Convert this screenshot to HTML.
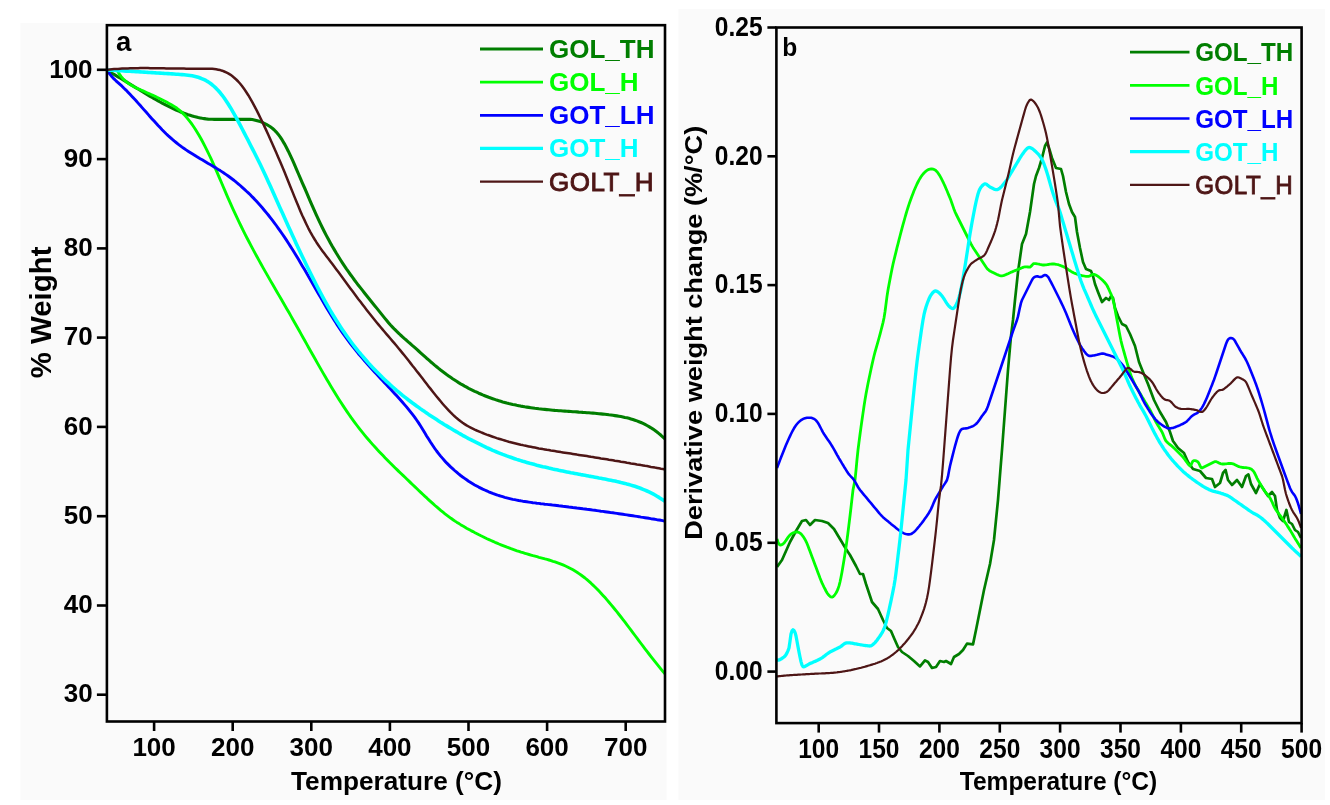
<!DOCTYPE html>
<html lang="en"><head><meta charset="utf-8"><title>TGA and DTG curves</title>
<style>html,body{margin:0;padding:0;background:#fff}body{width:1330px;height:805px;overflow:hidden}svg{display:block;filter:blur(0.45px)}text{font-family:"Liberation Sans",Arial,Helvetica,sans-serif;font-weight:bold;fill:#000}</style></head><body>
<svg width="1330" height="805" viewBox="0 0 1330 805">
<rect width="1330" height="805" fill="#fff"/>
<rect x="20.5" y="23" width="646" height="777" fill="#fafafa"/>
<rect x="678.5" y="9" width="646.5" height="791" fill="#fafafa"/>
<g id="panel-a">
<clipPath id="ca"><rect x="106.9" y="25.2" width="558.1" height="696.3"/></clipPath>
<g clip-path="url(#ca)">
<path d="M108.0,71.0L110.0,72.1L112.0,73.3L114.0,74.4L116.0,75.6L118.0,76.8L120.0,78.0L122.0,79.2L124.0,80.4L126.0,81.6L128.0,82.9L130.0,84.1L132.0,85.3L134.0,86.6L136.1,87.8L138.1,89.0L140.1,90.2L142.1,91.5L144.1,92.7L146.1,93.9L148.1,95.1L150.1,96.3L152.1,97.4L154.1,98.6L156.1,99.7L158.1,100.9L160.1,102.0L162.1,103.1L164.1,104.1L166.1,105.2L168.1,106.2L170.1,107.2L172.1,108.1L174.1,109.1L176.1,110.0L178.1,110.8L180.1,111.7L182.1,112.5L184.1,113.3L186.1,114.0L188.1,114.7L190.1,115.3L192.2,115.9L194.2,116.5L196.2,117.0L198.2,117.5L200.2,117.9L202.2,118.3L204.2,118.6L206.2,118.9L208.2,119.1L210.2,119.2L212.2,119.3L214.2,119.4L216.2,119.4L218.2,119.4L220.2,119.4L222.2,119.4L224.2,119.4L226.2,119.4L228.2,119.4L230.2,119.4L232.2,119.4L234.2,119.4L236.2,119.4L238.2,119.4L240.2,119.4L242.2,119.4L244.2,119.4L246.2,119.4L248.3,119.4L250.3,119.4L252.3,119.5L254.3,119.9L256.3,120.4L258.3,121.0L260.3,121.6L262.3,122.4L264.3,123.3L266.3,124.3L268.3,125.5L270.3,126.8L272.3,128.3L274.3,130.0L276.3,132.1L278.3,134.4L280.3,137.1L282.3,140.2L284.3,143.6L286.3,147.3L288.3,151.2L290.3,155.4L292.3,159.7L294.3,164.2L296.3,168.8L298.3,173.5L300.3,178.1L302.3,182.8L304.4,187.5L306.4,192.2L308.4,196.9L310.4,201.6L312.4,206.1L314.4,210.7L316.4,215.1L318.4,219.4L320.4,223.6L322.4,227.7L324.4,231.7L326.4,235.6L328.4,239.3L330.4,242.9L332.4,246.5L334.4,249.9L336.4,253.3L338.4,256.5L340.4,259.7L342.4,262.8L344.4,265.8L346.4,268.8L348.4,271.6L350.4,274.5L352.4,277.2L354.4,280.0L356.4,282.6L358.4,285.3L360.5,287.9L362.5,290.4L364.5,293.0L366.5,295.5L368.5,298.0L370.5,300.5L372.5,303.0L374.5,305.4L376.5,307.9L378.5,310.4L380.5,312.9L382.5,315.4L384.5,317.9L386.5,320.3L388.5,322.7L390.5,325.0L392.5,327.1L394.5,329.2L396.5,331.2L398.5,333.1L400.5,335.0L402.5,336.8L404.5,338.6L406.5,340.3L408.5,342.1L410.5,343.8L412.5,345.6L414.6,347.4L416.6,349.2L418.6,351.0L420.6,352.8L422.6,354.6L424.6,356.4L426.6,358.2L428.6,359.9L430.6,361.7L432.6,363.4L434.6,365.1L436.6,366.7L438.6,368.4L440.6,370.0L442.6,371.5L444.6,373.0L446.6,374.5L448.6,375.9L450.6,377.3L452.6,378.7L454.6,380.0L456.6,381.3L458.6,382.6L460.6,383.8L462.6,384.9L464.6,386.1L466.6,387.2L468.6,388.3L470.7,389.3L472.7,390.3L474.7,391.3L476.7,392.2L478.7,393.2L480.7,394.0L482.7,394.9L484.7,395.7L486.7,396.5L488.7,397.3L490.7,398.0L492.7,398.7L494.7,399.4L496.7,400.1L498.7,400.7L500.7,401.3L502.7,401.9L504.7,402.4L506.7,403.0L508.7,403.5L510.7,403.9L512.7,404.4L514.7,404.8L516.7,405.3L518.7,405.7L520.7,406.1L522.7,406.4L524.7,406.8L526.8,407.1L528.8,407.4L530.8,407.7L532.8,408.0L534.8,408.3L536.8,408.5L538.8,408.8L540.8,409.0L542.8,409.2L544.8,409.4L546.8,409.6L548.8,409.8L550.8,410.0L552.8,410.2L554.8,410.4L556.8,410.5L558.8,410.7L560.8,410.8L562.8,411.0L564.8,411.1L566.8,411.3L568.8,411.4L570.8,411.5L572.8,411.7L574.8,411.8L576.8,411.9L578.8,412.1L580.8,412.2L582.9,412.4L584.9,412.5L586.9,412.7L588.9,412.8L590.9,413.0L592.9,413.1L594.9,413.3L596.9,413.5L598.9,413.7L600.9,413.9L602.9,414.1L604.9,414.3L606.9,414.5L608.9,414.8L610.9,415.0L612.9,415.3L614.9,415.6L616.9,415.9L618.9,416.2L620.9,416.5L622.9,416.9L624.9,417.4L626.9,417.8L628.9,418.3L630.9,418.9L632.9,419.5L634.9,420.2L636.9,420.9L639.0,421.7L641.0,422.5L643.0,423.4L645.0,424.4L647.0,425.5L649.0,426.6L651.0,427.8L653.0,429.1L655.0,430.5L657.0,432.0L659.0,433.6L661.0,435.3L663.0,437.1L665.0,439.0" fill="none" stroke="#007e00" stroke-width="3.1" stroke-linejoin="round" stroke-linecap="butt"/>
<path d="M117.0,70.1L119.0,73.6L121.0,76.4L123.0,78.7L125.0,80.6L127.0,82.3L129.0,83.8L131.0,85.1L133.0,86.3L135.0,87.3L137.0,88.2L139.0,89.2L141.0,90.0L143.0,90.9L145.0,91.8L147.0,92.7L149.0,93.6L151.0,94.5L153.0,95.4L155.0,96.3L157.0,97.3L159.0,98.2L161.0,99.2L163.0,100.2L165.0,101.2L167.0,102.3L169.0,103.4L171.0,104.5L173.0,105.7L175.0,106.9L177.0,108.3L179.0,109.8L181.0,111.5L183.0,113.4L185.0,115.5L187.0,117.8L189.0,120.3L191.0,122.9L193.0,125.8L195.0,128.8L197.0,132.0L199.0,135.3L201.0,138.8L203.0,142.5L205.0,146.4L207.0,150.3L209.0,154.5L211.0,158.7L213.0,163.1L215.0,167.6L217.0,172.2L219.0,176.8L221.0,181.5L223.0,186.2L225.0,190.9L227.0,195.6L229.0,200.1L231.0,204.7L233.0,209.1L235.0,213.4L237.0,217.7L239.0,221.9L241.0,226.0L243.0,230.1L245.0,234.1L247.0,238.0L249.0,241.8L251.0,245.7L253.0,249.4L255.0,253.1L257.0,256.8L259.0,260.4L261.0,264.0L263.0,267.6L265.0,271.1L267.0,274.6L269.0,278.1L271.0,281.6L273.0,285.0L275.0,288.5L277.0,291.9L279.0,295.4L281.0,298.8L283.0,302.3L285.0,305.7L287.0,309.2L289.0,312.6L291.0,316.1L293.0,319.7L295.0,323.2L297.0,326.7L299.0,330.3L301.0,333.9L303.0,337.5L305.0,341.0L307.0,344.6L309.0,348.2L311.0,351.7L313.0,355.3L315.0,358.8L317.0,362.4L319.0,365.9L321.0,369.4L323.0,372.9L325.0,376.3L327.0,379.7L329.0,383.1L331.0,386.4L333.0,389.7L335.0,393.0L337.0,396.2L339.0,399.4L341.0,402.5L343.0,405.6L345.0,408.6L347.0,411.6L349.0,414.5L351.0,417.4L353.0,420.1L355.0,422.8L357.0,425.5L359.0,428.1L361.0,430.6L363.0,433.1L365.0,435.6L367.0,438.0L369.0,440.3L371.0,442.6L373.0,444.9L375.0,447.1L377.0,449.3L379.0,451.4L381.0,453.5L383.0,455.6L385.0,457.7L387.0,459.7L389.0,461.8L391.0,463.7L393.0,465.7L395.0,467.7L397.0,469.6L399.0,471.6L401.0,473.5L403.0,475.4L405.0,477.3L407.0,479.2L409.0,481.1L411.0,483.1L413.0,485.0L415.0,486.9L417.0,488.8L419.0,490.7L421.0,492.6L423.0,494.5L425.0,496.4L427.0,498.2L429.0,500.1L431.0,501.9L433.0,503.7L435.0,505.5L437.0,507.2L439.0,508.9L441.0,510.6L443.0,512.2L445.0,513.8L447.0,515.3L449.0,516.8L451.0,518.3L453.0,519.7L455.0,521.1L457.0,522.4L459.0,523.6L461.0,524.9L463.0,526.1L465.0,527.2L467.0,528.4L469.0,529.5L471.0,530.6L473.0,531.6L475.0,532.7L477.0,533.7L479.0,534.8L481.0,535.8L483.0,536.7L485.0,537.7L487.0,538.7L489.0,539.6L491.0,540.5L493.0,541.4L495.0,542.3L497.0,543.1L499.0,544.0L501.0,544.8L503.0,545.6L505.0,546.4L507.0,547.2L509.0,547.9L511.0,548.7L513.0,549.4L515.0,550.1L517.0,550.8L519.0,551.4L521.0,552.1L523.0,552.7L525.0,553.3L527.0,553.9L529.0,554.5L531.0,555.1L533.0,555.7L535.0,556.2L537.0,556.7L539.0,557.3L541.0,557.8L543.0,558.3L545.0,558.9L547.0,559.4L549.0,560.0L551.0,560.6L553.0,561.3L555.0,561.9L557.0,562.6L559.0,563.3L561.0,564.1L563.0,564.9L565.0,565.8L567.0,566.7L569.0,567.7L571.0,568.7L573.0,569.8L575.0,571.0L577.0,572.2L579.0,573.6L581.0,575.0L583.0,576.5L585.0,578.0L587.0,579.7L589.0,581.4L591.0,583.2L593.0,585.1L595.0,587.0L597.0,589.0L599.0,591.1L601.0,593.2L603.0,595.4L605.0,597.6L607.0,599.9L609.0,602.2L611.0,604.6L613.0,607.0L615.0,609.5L617.0,611.9L619.0,614.5L621.0,617.0L623.0,619.6L625.0,622.2L627.0,624.8L629.0,627.5L631.0,630.1L633.0,632.8L635.0,635.5L637.0,638.1L639.0,640.8L641.0,643.5L643.0,646.1L645.0,648.8L647.0,651.4L649.0,654.0L651.0,656.6L653.0,659.2L655.0,661.7L657.0,664.2L659.0,666.7L661.0,669.2L663.0,671.6L665.0,673.9" fill="none" stroke="#00ff00" stroke-width="2.9" stroke-linejoin="round" stroke-linecap="butt"/>
<path d="M108.0,71.7L110.0,74.4L112.0,76.8L114.0,78.9L116.0,80.8L118.0,82.6L120.0,84.4L122.0,86.2L124.0,88.2L126.0,90.1L128.0,92.2L130.0,94.3L132.0,96.4L134.0,98.6L136.1,100.8L138.1,103.1L140.1,105.3L142.1,107.6L144.1,109.9L146.1,112.1L148.1,114.4L150.1,116.7L152.1,118.9L154.1,121.1L156.1,123.3L158.1,125.5L160.1,127.6L162.1,129.7L164.1,131.7L166.1,133.7L168.1,135.6L170.1,137.4L172.1,139.2L174.1,140.9L176.1,142.5L178.1,144.1L180.1,145.6L182.1,147.1L184.1,148.5L186.1,149.9L188.1,151.2L190.1,152.5L192.2,153.8L194.2,155.0L196.2,156.3L198.2,157.5L200.2,158.7L202.2,159.8L204.2,161.0L206.2,162.2L208.2,163.4L210.2,164.5L212.2,165.7L214.2,166.9L216.2,168.1L218.2,169.4L220.2,170.6L222.2,171.9L224.2,173.3L226.2,174.6L228.2,176.0L230.2,177.5L232.2,179.0L234.2,180.5L236.2,182.2L238.2,183.8L240.2,185.5L242.2,187.3L244.2,189.1L246.2,191.0L248.3,192.9L250.3,194.8L252.3,196.9L254.3,198.9L256.3,201.1L258.3,203.3L260.3,205.5L262.3,207.8L264.3,210.2L266.3,212.6L268.3,215.0L270.3,217.6L272.3,220.2L274.3,222.8L276.3,225.5L278.3,228.3L280.3,231.1L282.3,234.0L284.3,236.9L286.3,239.9L288.3,243.0L290.3,246.1L292.3,249.3L294.3,252.5L296.3,255.8L298.3,259.1L300.3,262.5L302.3,265.9L304.4,269.3L306.4,272.8L308.4,276.3L310.4,279.7L312.4,283.2L314.4,286.7L316.4,290.2L318.4,293.7L320.4,297.1L322.4,300.6L324.4,304.0L326.4,307.4L328.4,310.7L330.4,314.0L332.4,317.2L334.4,320.4L336.4,323.6L338.4,326.6L340.4,329.6L342.4,332.6L344.4,335.4L346.4,338.2L348.4,340.9L350.4,343.6L352.4,346.2L354.4,348.7L356.4,351.2L358.4,353.7L360.5,356.1L362.5,358.4L364.5,360.8L366.5,363.0L368.5,365.3L370.5,367.5L372.5,369.7L374.5,371.9L376.5,374.1L378.5,376.3L380.5,378.4L382.5,380.5L384.5,382.7L386.5,384.8L388.5,387.0L390.5,389.1L392.5,391.3L394.5,393.4L396.5,395.6L398.5,397.8L400.5,400.0L402.5,402.3L404.5,404.6L406.5,406.9L408.5,409.4L410.5,411.9L412.5,414.4L414.6,417.1L416.6,420.0L418.6,422.9L420.6,426.0L422.6,429.2L424.6,432.5L426.6,435.9L428.6,439.1L430.6,442.3L432.6,445.3L434.6,448.2L436.6,451.0L438.6,453.6L440.6,456.1L442.6,458.4L444.6,460.7L446.6,462.9L448.6,464.9L450.6,466.9L452.6,468.7L454.6,470.5L456.6,472.2L458.6,473.9L460.6,475.5L462.6,477.0L464.6,478.4L466.6,479.8L468.6,481.2L470.7,482.5L472.7,483.7L474.7,484.9L476.7,486.0L478.7,487.1L480.7,488.1L482.7,489.1L484.7,490.0L486.7,490.9L488.7,491.8L490.7,492.6L492.7,493.4L494.7,494.1L496.7,494.8L498.7,495.5L500.7,496.1L502.7,496.7L504.7,497.3L506.7,497.8L508.7,498.3L510.7,498.8L512.7,499.3L514.7,499.7L516.7,500.1L518.7,500.5L520.7,500.8L522.7,501.2L524.7,501.5L526.8,501.8L528.8,502.1L530.8,502.4L532.8,502.7L534.8,502.9L536.8,503.2L538.8,503.4L540.8,503.7L542.8,503.9L544.8,504.2L546.8,504.4L548.8,504.6L550.8,504.8L552.8,505.1L554.8,505.3L556.8,505.5L558.8,505.8L560.8,506.0L562.8,506.3L564.8,506.5L566.8,506.7L568.8,507.0L570.8,507.2L572.8,507.5L574.8,507.7L576.8,508.0L578.8,508.2L580.8,508.5L582.9,508.8L584.9,509.0L586.9,509.3L588.9,509.5L590.9,509.8L592.9,510.1L594.9,510.3L596.9,510.6L598.9,510.9L600.9,511.2L602.9,511.4L604.9,511.7L606.9,512.0L608.9,512.3L610.9,512.6L612.9,512.8L614.9,513.1L616.9,513.4L618.9,513.7L620.9,514.0L622.9,514.3L624.9,514.6L626.9,514.9L628.9,515.2L630.9,515.5L632.9,515.8L634.9,516.1L636.9,516.4L639.0,516.7L641.0,517.1L643.0,517.4L645.0,517.7L647.0,518.0L649.0,518.3L651.0,518.7L653.0,519.0L655.0,519.3L657.0,519.7L659.0,520.0L661.0,520.3L663.0,520.7L665.0,521.0" fill="none" stroke="#0000ff" stroke-width="2.9" stroke-linejoin="round" stroke-linecap="butt"/>
<path d="M108.0,70.0L110.0,70.1L112.0,70.2L114.0,70.3L116.0,70.5L118.0,70.6L120.0,70.7L122.0,70.8L124.0,71.0L126.0,71.1L128.0,71.2L130.0,71.3L132.0,71.4L134.0,71.5L136.1,71.7L138.1,71.8L140.1,71.9L142.1,72.0L144.1,72.1L146.1,72.2L148.1,72.4L150.1,72.5L152.1,72.6L154.1,72.7L156.1,72.9L158.1,73.0L160.1,73.1L162.1,73.2L164.1,73.4L166.1,73.5L168.1,73.6L170.1,73.8L172.1,73.9L174.1,74.0L176.1,74.2L178.1,74.3L180.1,74.5L182.1,74.6L184.1,74.8L186.1,75.0L188.1,75.2L190.1,75.5L192.2,75.8L194.2,76.2L196.2,76.7L198.2,77.3L200.2,78.0L202.2,78.8L204.2,79.7L206.2,80.7L208.2,81.9L210.2,83.3L212.2,84.8L214.2,86.5L216.2,88.4L218.2,90.5L220.2,92.8L222.2,95.3L224.2,98.0L226.2,100.9L228.2,104.0L230.2,107.2L232.2,110.6L234.2,114.1L236.2,117.7L238.2,121.4L240.2,125.2L242.2,129.0L244.2,132.9L246.2,136.8L248.3,140.7L250.3,144.7L252.3,148.6L254.3,152.5L256.3,156.5L258.3,160.5L260.3,164.5L262.3,168.7L264.3,172.9L266.3,177.3L268.3,181.7L270.3,186.1L272.3,190.5L274.3,195.0L276.3,199.5L278.3,203.9L280.3,208.4L282.3,212.8L284.3,217.3L286.3,221.7L288.3,226.2L290.3,230.6L292.3,235.0L294.3,239.3L296.3,243.7L298.3,248.0L300.3,252.3L302.3,256.5L304.4,260.7L306.4,264.9L308.4,269.0L310.4,273.1L312.4,277.1L314.4,281.1L316.4,285.0L318.4,288.9L320.4,292.7L322.4,296.4L324.4,300.1L326.4,303.7L328.4,307.2L330.4,310.6L332.4,314.0L334.4,317.3L336.4,320.5L338.4,323.6L340.4,326.7L342.4,329.7L344.4,332.6L346.4,335.5L348.4,338.3L350.4,341.0L352.4,343.7L354.4,346.3L356.4,348.9L358.4,351.4L360.5,353.8L362.5,356.2L364.5,358.5L366.5,360.8L368.5,363.1L370.5,365.3L372.5,367.4L374.5,369.5L376.5,371.6L378.5,373.6L380.5,375.6L382.5,377.6L384.5,379.5L386.5,381.4L388.5,383.2L390.5,385.0L392.5,386.8L394.5,388.5L396.5,390.3L398.5,392.0L400.5,393.6L402.5,395.3L404.5,396.9L406.5,398.4L408.5,400.0L410.5,401.5L412.5,403.0L414.6,404.5L416.6,406.0L418.6,407.4L420.6,408.9L422.6,410.3L424.6,411.6L426.6,413.0L428.6,414.4L430.6,415.7L432.6,417.0L434.6,418.3L436.6,419.6L438.6,420.9L440.6,422.2L442.6,423.4L444.6,424.7L446.6,425.9L448.6,427.1L450.6,428.3L452.6,429.5L454.6,430.7L456.6,431.8L458.6,433.0L460.6,434.1L462.6,435.3L464.6,436.4L466.6,437.5L468.6,438.6L470.7,439.6L472.7,440.7L474.7,441.7L476.7,442.7L478.7,443.7L480.7,444.7L482.7,445.7L484.7,446.6L486.7,447.6L488.7,448.5L490.7,449.4L492.7,450.3L494.7,451.1L496.7,452.0L498.7,452.8L500.7,453.6L502.7,454.4L504.7,455.1L506.7,455.9L508.7,456.6L510.7,457.3L512.7,458.0L514.7,458.7L516.7,459.4L518.7,460.0L520.7,460.6L522.7,461.3L524.7,461.8L526.8,462.4L528.8,463.0L530.8,463.6L532.8,464.1L534.8,464.6L536.8,465.2L538.8,465.7L540.8,466.2L542.8,466.7L544.8,467.1L546.8,467.6L548.8,468.1L550.8,468.5L552.8,469.0L554.8,469.4L556.8,469.8L558.8,470.3L560.8,470.7L562.8,471.1L564.8,471.5L566.8,471.9L568.8,472.3L570.8,472.7L572.8,473.0L574.8,473.4L576.8,473.8L578.8,474.2L580.8,474.6L582.9,474.9L584.9,475.3L586.9,475.7L588.9,476.1L590.9,476.4L592.9,476.8L594.9,477.2L596.9,477.6L598.9,478.0L600.9,478.3L602.9,478.7L604.9,479.1L606.9,479.5L608.9,479.9L610.9,480.3L612.9,480.7L614.9,481.1L616.9,481.6L618.9,482.0L620.9,482.5L622.9,482.9L624.9,483.4L626.9,484.0L628.9,484.5L630.9,485.1L632.9,485.7L634.9,486.3L636.9,487.0L639.0,487.7L641.0,488.5L643.0,489.3L645.0,490.1L647.0,491.0L649.0,491.9L651.0,492.9L653.0,493.9L655.0,495.0L657.0,496.2L659.0,497.4L661.0,498.7L663.0,500.0L665.0,501.4" fill="none" stroke="#00ffff" stroke-width="3.6" stroke-linejoin="round" stroke-linecap="butt"/>
<path d="M108.0,69.7L110.0,69.5L112.0,69.3L114.0,69.1L116.0,69.0L118.0,68.9L120.0,68.7L122.0,68.6L124.0,68.5L126.0,68.5L128.0,68.4L130.0,68.3L132.0,68.3L134.0,68.2L136.1,68.2L138.1,68.2L140.1,68.1L142.1,68.1L144.1,68.1L146.1,68.1L148.1,68.1L150.1,68.2L152.1,68.2L154.1,68.2L156.1,68.2L158.1,68.2L160.1,68.3L162.1,68.3L164.1,68.3L166.1,68.4L168.1,68.4L170.1,68.4L172.1,68.5L174.1,68.5L176.1,68.5L178.1,68.6L180.1,68.6L182.1,68.6L184.1,68.6L186.1,68.7L188.1,68.7L190.1,68.7L192.2,68.7L194.2,68.7L196.2,68.7L198.2,68.7L200.2,68.7L202.2,68.7L204.2,68.7L206.2,68.7L208.2,68.7L210.2,68.7L212.2,68.8L214.2,69.0L216.2,69.3L218.2,69.7L220.2,70.1L222.2,70.7L224.2,71.5L226.2,72.4L228.2,73.4L230.2,74.6L232.2,76.1L234.2,77.7L236.2,79.5L238.2,81.5L240.2,83.8L242.2,86.3L244.2,89.1L246.2,92.0L248.3,95.2L250.3,98.6L252.3,102.1L254.3,105.8L256.3,109.6L258.3,113.6L260.3,117.7L262.3,121.8L264.3,126.1L266.3,130.4L268.3,134.8L270.3,139.3L272.3,143.7L274.3,148.3L276.3,152.8L278.3,157.4L280.3,162.1L282.3,166.8L284.3,171.6L286.3,176.5L288.3,181.5L290.3,186.5L292.3,191.4L294.3,196.4L296.3,201.3L298.3,206.1L300.3,210.9L302.3,215.5L304.4,219.9L306.4,224.2L308.4,228.3L310.4,232.1L312.4,235.7L314.4,239.0L316.4,242.2L318.4,245.2L320.4,248.1L322.4,250.9L324.4,253.6L326.4,256.2L328.4,258.8L330.4,261.4L332.4,264.1L334.4,266.7L336.4,269.4L338.4,272.1L340.4,274.8L342.4,277.5L344.4,280.2L346.4,282.9L348.4,285.7L350.4,288.4L352.4,291.1L354.4,293.8L356.4,296.5L358.4,299.2L360.5,301.8L362.5,304.5L364.5,307.1L366.5,309.7L368.5,312.3L370.5,314.8L372.5,317.3L374.5,319.8L376.5,322.2L378.5,324.6L380.5,327.0L382.5,329.4L384.5,331.7L386.5,334.1L388.5,336.4L390.5,338.7L392.5,341.1L394.5,343.4L396.5,345.8L398.5,348.2L400.5,350.6L402.5,353.1L404.5,355.5L406.5,358.0L408.5,360.6L410.5,363.1L412.5,365.7L414.6,368.3L416.6,370.9L418.6,373.4L420.6,376.0L422.6,378.6L424.6,381.2L426.6,383.8L428.6,386.4L430.6,388.9L432.6,391.5L434.6,394.0L436.6,396.5L438.6,398.9L440.6,401.3L442.6,403.7L444.6,406.0L446.6,408.2L448.6,410.3L450.6,412.4L452.6,414.4L454.6,416.3L456.6,418.1L458.6,419.7L460.6,421.3L462.6,422.8L464.6,424.1L466.6,425.4L468.6,426.5L470.7,427.6L472.7,428.6L474.7,429.6L476.7,430.5L478.7,431.3L480.7,432.2L482.7,433.0L484.7,433.8L486.7,434.6L488.7,435.3L490.7,436.0L492.7,436.7L494.7,437.4L496.7,438.1L498.7,438.7L500.7,439.3L502.7,439.9L504.7,440.5L506.7,441.1L508.7,441.7L510.7,442.2L512.7,442.7L514.7,443.2L516.7,443.7L518.7,444.2L520.7,444.7L522.7,445.1L524.7,445.6L526.8,446.0L528.8,446.4L530.8,446.8L532.8,447.2L534.8,447.6L536.8,448.0L538.8,448.4L540.8,448.7L542.8,449.1L544.8,449.4L546.8,449.8L548.8,450.1L550.8,450.5L552.8,450.8L554.8,451.1L556.8,451.4L558.8,451.7L560.8,452.1L562.8,452.4L564.8,452.7L566.8,453.0L568.8,453.3L570.8,453.6L572.8,453.9L574.8,454.2L576.8,454.6L578.8,454.9L580.8,455.2L582.9,455.5L584.9,455.8L586.9,456.1L588.9,456.4L590.9,456.8L592.9,457.1L594.9,457.4L596.9,457.7L598.9,458.0L600.9,458.4L602.9,458.7L604.9,459.0L606.9,459.3L608.9,459.7L610.9,460.0L612.9,460.3L614.9,460.7L616.9,461.0L618.9,461.3L620.9,461.7L622.9,462.0L624.9,462.3L626.9,462.7L628.9,463.0L630.9,463.4L632.9,463.7L634.9,464.0L636.9,464.4L639.0,464.7L641.0,465.1L643.0,465.4L645.0,465.8L647.0,466.1L649.0,466.5L651.0,466.9L653.0,467.2L655.0,467.6L657.0,467.9L659.0,468.3L661.0,468.7L663.0,469.0L665.0,469.4" fill="none" stroke="#4e1616" stroke-width="2.5" stroke-linejoin="round" stroke-linecap="butt"/>
</g>
<rect x="106.9" y="25.2" width="558.1" height="696.3" fill="none" stroke="#000" stroke-width="2.6"/>
<line x1="154.1" y1="721.5" x2="154.1" y2="731.0" stroke="#000" stroke-width="2.6"/>
<text x="154.1" y="756.2" font-size="26" text-anchor="middle">100</text>
<line x1="232.7" y1="721.5" x2="232.7" y2="731.0" stroke="#000" stroke-width="2.6"/>
<text x="232.7" y="756.2" font-size="26" text-anchor="middle">200</text>
<line x1="311.3" y1="721.5" x2="311.3" y2="731.0" stroke="#000" stroke-width="2.6"/>
<text x="311.3" y="756.2" font-size="26" text-anchor="middle">300</text>
<line x1="389.9" y1="721.5" x2="389.9" y2="731.0" stroke="#000" stroke-width="2.6"/>
<text x="389.9" y="756.2" font-size="26" text-anchor="middle">400</text>
<line x1="468.5" y1="721.5" x2="468.5" y2="731.0" stroke="#000" stroke-width="2.6"/>
<text x="468.5" y="756.2" font-size="26" text-anchor="middle">500</text>
<line x1="547.1" y1="721.5" x2="547.1" y2="731.0" stroke="#000" stroke-width="2.6"/>
<text x="547.1" y="756.2" font-size="26" text-anchor="middle">600</text>
<line x1="625.7" y1="721.5" x2="625.7" y2="731.0" stroke="#000" stroke-width="2.6"/>
<text x="625.7" y="756.2" font-size="26" text-anchor="middle">700</text>
<line x1="96.9" y1="694.7" x2="106.9" y2="694.7" stroke="#000" stroke-width="2.6"/>
<text x="92.6" y="702.4" font-size="26" text-anchor="end">30</text>
<line x1="96.9" y1="605.5" x2="106.9" y2="605.5" stroke="#000" stroke-width="2.6"/>
<text x="92.6" y="613.2" font-size="26" text-anchor="end">40</text>
<line x1="96.9" y1="516.2" x2="106.9" y2="516.2" stroke="#000" stroke-width="2.6"/>
<text x="92.6" y="523.9" font-size="26" text-anchor="end">50</text>
<line x1="96.9" y1="426.9" x2="106.9" y2="426.9" stroke="#000" stroke-width="2.6"/>
<text x="92.6" y="434.6" font-size="26" text-anchor="end">60</text>
<line x1="96.9" y1="337.6" x2="106.9" y2="337.6" stroke="#000" stroke-width="2.6"/>
<text x="92.6" y="345.3" font-size="26" text-anchor="end">70</text>
<line x1="96.9" y1="248.4" x2="106.9" y2="248.4" stroke="#000" stroke-width="2.6"/>
<text x="92.6" y="256.1" font-size="26" text-anchor="end">80</text>
<line x1="96.9" y1="159.1" x2="106.9" y2="159.1" stroke="#000" stroke-width="2.6"/>
<text x="92.6" y="166.8" font-size="26" text-anchor="end">90</text>
<line x1="96.9" y1="69.8" x2="106.9" y2="69.8" stroke="#000" stroke-width="2.6"/>
<text x="92.6" y="77.5" font-size="26" text-anchor="end">100</text>
<text x="396.5" y="789.5" font-size="26" text-anchor="middle" textLength="211" lengthAdjust="spacingAndGlyphs">Temperature (°C)</text>
<text transform="translate(50.6,312.4) rotate(-90)" font-size="29.4" text-anchor="middle">% Weight</text>
<text x="116" y="51" font-size="27.5">a</text>
<line x1="480" y1="49.0" x2="543" y2="49.0" stroke="#007e00" stroke-width="2.8"/>
<text x="549" y="58.0" font-size="26" style="fill:#007e00">GOL_TH</text>
<line x1="480" y1="82.2" x2="543" y2="82.2" stroke="#00ff00" stroke-width="2.7"/>
<text x="549" y="91.2" font-size="26" style="fill:#00ff00">GOL_H</text>
<line x1="480" y1="115.3" x2="543" y2="115.3" stroke="#0000ff" stroke-width="2.7"/>
<text x="549" y="124.3" font-size="26" style="fill:#0000ff">GOT_LH</text>
<line x1="480" y1="148.4" x2="543" y2="148.4" stroke="#00ffff" stroke-width="3.3"/>
<text x="549" y="157.4" font-size="26" style="fill:#00ffff">GOT_H</text>
<line x1="480" y1="181.6" x2="543" y2="181.6" stroke="#4e1616" stroke-width="2.3"/>
<text x="549" y="190.6" font-size="26" style="fill:#4e1616;font-weight:normal;stroke:#4e1616;stroke-width:0.9" textLength="104.5" lengthAdjust="spacing">GOLT_H</text>
</g>
<g id="panel-b">
<clipPath id="cb"><rect x="776.4" y="27.5" width="525.1999999999999" height="695.6"/></clipPath>
<g clip-path="url(#cb)">
<path d="M777.0,567.0L782.0,560.0L790.0,542.0L796.0,531.0L802.0,521.0L806.0,520.0L810.0,525.0L815.0,520.0L822.0,521.0L828.0,523.0L834.0,529.0L840.0,539.0L846.0,549.0L850.0,555.0L856.0,566.0L860.0,574.0L863.0,574.0L866.0,584.0L872.0,602.0L878.0,609.0L883.0,620.0L887.0,628.0L891.0,631.0L894.0,638.0L898.0,647.0L902.0,652.0L908.0,656.0L914.0,661.0L920.0,666.4L925.0,660.4L928.0,662.0L932.0,668.0L936.0,667.0L940.0,661.0L944.0,662.0L946.0,661.0L951.0,664.0L954.0,657.0L959.0,654.0L963.0,650.0L967.0,643.6L973.0,644.4L976.0,630.0L980.0,610.0L984.0,590.0L990.0,564.0L994.0,540.0L998.0,500.0L999.6,480.0L1002.0,450.0L1005.0,410.0L1008.0,370.0L1011.0,336.0L1013.0,320.0L1015.0,300.0L1018.0,272.0L1022.0,244.0L1026.0,234.0L1030.0,212.0L1034.0,184.0L1036.0,176.0L1039.0,168.0L1042.0,158.0L1045.0,146.0L1047.0,142.4L1049.0,148.0L1052.0,158.0L1056.0,168.0L1061.0,169.0L1063.0,176.0L1066.0,192.0L1069.0,204.0L1072.0,212.0L1075.0,217.0L1077.0,232.0L1080.0,248.0L1083.0,262.0L1086.0,269.0L1091.0,271.0L1093.0,276.0L1095.0,284.0L1098.0,292.0L1102.0,302.0L1106.0,298.0L1109.0,300.0L1111.0,296.0L1113.0,298.0L1115.0,308.0L1118.0,316.0L1122.0,324.0L1126.0,326.0L1130.0,334.0L1135.0,346.0L1139.0,362.0L1143.0,372.0L1148.0,384.0L1154.0,400.0L1160.0,412.0L1166.0,422.0L1170.0,432.0L1173.0,441.0L1178.0,448.0L1184.0,453.0L1188.0,462.0L1193.0,469.0L1200.0,471.0L1206.0,478.0L1212.0,479.0L1215.0,487.0L1220.0,483.0L1223.0,473.0L1225.6,470.0L1228.0,480.0L1232.0,485.0L1237.0,480.0L1242.0,487.0L1246.0,476.0L1248.4,474.4L1251.0,484.0L1256.0,493.0L1260.0,484.0L1264.0,490.0L1268.0,496.0L1272.0,492.0L1275.0,496.0L1277.0,510.0L1280.0,518.0L1283.0,521.0L1286.4,510.0L1289.0,522.0L1292.0,524.0L1295.0,530.0L1298.0,532.0L1301.0,538.0" fill="none" stroke="#007e00" stroke-width="2.7" stroke-linejoin="round" stroke-linecap="butt"/>
<path d="M777.0,539.0L778.0,542.0L779.0,544.1L780.0,545.0L781.0,545.0L782.0,544.6L783.0,544.0L784.0,543.0L785.0,541.8L786.0,540.4L787.0,538.9L788.0,537.4L789.0,536.1L790.0,535.0L791.0,534.1L792.0,533.4L793.0,532.9L794.0,532.5L795.0,532.2L796.0,532.0L797.0,532.0L798.0,532.1L799.0,532.5L800.0,533.1L801.0,533.9L802.0,535.0L803.0,536.3L804.0,537.8L805.0,539.4L806.0,541.3L807.0,543.5L808.0,546.0L809.0,548.7L810.0,551.3L811.0,554.0L812.0,556.7L813.0,559.3L814.0,562.0L815.0,564.7L816.0,567.3L817.0,570.0L818.0,572.7L819.0,575.3L820.0,578.0L821.0,580.5L822.0,582.9L823.0,585.0L824.0,587.1L825.0,589.0L826.0,591.0L827.0,592.8L828.0,594.3L829.0,595.4L830.0,596.3L831.0,597.0L832.0,597.2L833.0,596.8L834.0,595.8L835.0,594.5L836.0,593.0L837.0,591.2L838.0,588.9L839.0,585.9L840.0,582.0L841.0,577.2L842.0,571.9L843.0,566.1L844.0,560.0L845.0,553.7L846.0,547.1L847.0,540.0L848.0,532.3L849.0,524.2L850.0,516.0L851.0,507.5L852.0,498.6L853.0,490.0L854.0,484.9L855.0,480.0L856.0,470.4L857.0,459.5L858.0,450.0L859.0,442.1L860.0,434.5L861.0,427.1L862.0,420.0L863.0,413.1L864.0,406.3L865.0,399.9L866.0,394.0L867.0,388.7L868.0,383.6L869.0,378.7L870.0,374.0L871.0,369.3L872.0,364.6L873.0,360.2L874.0,356.0L875.0,352.2L876.0,348.6L877.0,345.1L878.0,341.6L879.0,338.0L880.0,334.3L881.0,330.5L882.0,326.6L883.0,322.6L884.0,318.0L885.0,311.7L886.0,304.1L887.0,296.4L888.0,290.0L889.0,284.6L890.0,279.2L891.0,274.0L892.0,269.0L893.0,264.3L894.0,260.0L895.0,255.9L896.0,251.8L897.0,247.7L898.0,243.8L899.0,239.8L900.0,236.0L901.0,232.2L902.0,228.4L903.0,224.7L904.0,221.1L905.0,217.5L906.0,214.0L907.0,210.7L908.0,207.5L909.0,204.4L910.0,201.5L911.0,198.7L912.0,196.0L913.0,193.4L914.0,190.8L915.0,188.5L916.0,186.2L917.0,184.0L918.0,182.0L919.0,180.1L920.0,178.4L921.0,176.8L922.0,175.4L923.0,174.2L924.0,173.0L925.0,172.0L926.0,171.1L927.0,170.4L928.0,169.8L929.0,169.4L930.0,169.1L931.0,169.0L932.0,169.0L933.0,169.1L934.0,169.4L935.0,169.9L936.0,170.7L937.0,171.7L938.0,173.0L939.0,174.5L940.0,176.1L941.0,177.9L942.0,179.8L943.0,181.8L944.0,184.0L945.0,186.2L946.0,188.5L947.0,190.8L948.0,193.2L949.0,195.6L950.0,198.0L951.0,200.6L952.0,203.5L953.0,206.4L954.0,209.2L955.0,211.8L956.0,214.0L957.0,216.0L958.0,218.0L959.0,220.0L960.0,222.0L961.0,224.0L962.0,226.0L963.0,228.0L964.0,230.0L965.0,232.0L966.0,234.0L967.0,236.0L968.0,238.0L969.0,240.0L970.0,242.0L971.0,243.9L972.0,245.7L973.0,247.4L974.0,249.0L975.0,250.5L976.0,252.0L977.0,253.5L978.0,255.0L979.0,256.5L980.0,258.0L981.0,259.5L982.0,261.0L983.0,262.5L984.0,264.0L985.0,265.5L986.0,267.0L987.0,268.4L988.0,269.4L989.0,270.3L990.0,271.0L991.0,271.6L992.0,272.1L993.0,272.5L994.0,273.0L995.0,273.5L996.0,274.0L997.0,274.5L998.0,274.9L999.0,275.3L1000.0,275.6L1001.0,275.8L1002.0,275.8L1003.0,275.7L1004.0,275.4L1005.0,275.0L1006.0,274.6L1007.0,274.1L1008.0,273.7L1009.0,273.2L1010.0,272.8L1011.0,272.3L1012.0,271.9L1013.0,271.4L1014.0,271.0L1015.0,270.6L1016.0,270.2L1017.0,269.8L1018.0,269.4L1019.0,269.0L1020.0,268.6L1021.0,268.2L1022.0,267.8L1023.0,267.4L1024.0,267.0L1025.0,266.8L1026.0,266.8L1027.0,266.9L1028.0,267.0L1029.0,267.1L1030.0,267.0L1031.0,266.3L1032.0,265.2L1033.0,264.1L1034.0,263.6L1035.0,263.6L1036.0,263.7L1037.0,263.8L1038.0,264.0L1039.0,264.2L1040.0,264.5L1041.0,264.7L1042.0,264.9L1043.0,265.0L1044.0,265.0L1045.0,264.9L1046.0,264.8L1047.0,264.7L1048.0,264.5L1049.0,264.4L1050.0,264.2L1051.0,264.1L1052.0,264.0L1053.0,264.0L1054.0,264.0L1055.0,264.1L1056.0,264.3L1057.0,264.5L1058.0,264.7L1059.0,265.0L1060.0,265.3L1061.0,265.7L1062.0,266.1L1063.0,266.5L1064.0,267.0L1065.0,267.5L1066.0,268.1L1067.0,268.7L1068.0,269.4L1069.0,270.1L1070.0,270.7L1071.0,271.4L1072.0,272.0L1073.0,272.5L1074.0,273.0L1075.0,273.4L1076.0,273.8L1077.0,274.2L1078.0,274.5L1079.0,274.8L1080.0,275.1L1081.0,275.3L1082.0,275.6L1083.0,275.8L1084.0,276.0L1085.0,276.2L1086.0,276.3L1087.0,276.3L1088.0,276.4L1089.0,276.3L1090.0,275.9L1091.0,275.3L1092.0,274.8L1093.0,274.4L1094.0,274.4L1095.0,274.7L1096.0,275.1L1097.0,275.7L1098.0,276.4L1099.0,277.2L1100.0,278.0L1101.0,278.8L1102.0,279.7L1103.0,280.6L1104.0,281.7L1105.0,282.8L1106.0,284.0L1107.0,285.5L1108.0,287.5L1109.0,289.7L1110.0,292.0L1111.0,294.2L1112.0,296.5L1113.0,299.6L1114.0,304.0L1115.0,309.3L1116.0,314.7L1117.0,320.0L1118.0,325.3L1119.0,330.7L1120.0,336.0L1121.0,340.8L1122.0,344.8L1123.0,348.5L1124.0,352.0L1125.0,355.6L1126.0,359.2L1127.0,362.6L1128.0,366.0L1129.0,369.3L1130.0,372.5L1131.0,375.4L1132.0,378.0L1133.0,380.3L1134.0,382.5L1135.0,384.6L1136.0,386.5L1137.0,388.3L1138.0,390.0L1139.0,391.7L1140.0,393.3L1141.0,395.0L1142.0,396.7L1143.0,398.3L1144.0,400.0L1145.0,401.7L1146.0,403.3L1147.0,405.0L1148.0,406.7L1149.0,408.3L1150.0,410.0L1151.0,411.8L1152.0,413.8L1153.0,415.8L1154.0,418.0L1155.0,420.0L1156.0,422.0L1157.0,423.8L1158.0,425.5L1159.0,427.1L1160.0,428.7L1161.0,430.3L1162.0,432.0L1163.0,434.2L1164.0,436.8L1165.0,439.3L1166.0,441.0L1167.0,442.0L1168.0,443.0L1169.0,443.8L1170.0,444.6L1171.0,445.4L1172.0,446.2L1173.0,447.1L1174.0,448.0L1175.0,449.0L1176.0,450.0L1177.0,451.0L1178.0,452.0L1179.0,453.0L1180.0,454.0L1181.0,455.0L1182.0,456.0L1183.0,457.1L1184.0,458.4L1185.0,459.7L1186.0,461.1L1187.0,462.5L1188.0,463.8L1189.0,465.0L1190.0,466.0L1191.0,465.2L1192.0,462.7L1193.0,461.0L1194.0,460.7L1195.0,460.7L1196.0,460.9L1197.0,461.3L1198.0,462.0L1199.0,463.5L1200.0,465.7L1201.0,467.5L1202.0,468.0L1203.0,467.5L1204.0,467.0L1205.0,466.5L1206.0,466.0L1207.0,465.5L1208.0,465.0L1209.0,464.5L1210.0,464.0L1211.0,463.5L1212.0,463.0L1213.0,462.5L1214.0,462.0L1215.0,461.7L1216.0,461.7L1217.0,462.0L1218.0,462.4L1219.0,462.9L1220.0,463.4L1221.0,463.8L1222.0,464.0L1223.0,464.0L1224.0,464.0L1225.0,463.9L1226.0,463.8L1227.0,463.7L1228.0,463.5L1229.0,463.5L1230.0,463.4L1231.0,463.5L1232.0,463.6L1233.0,463.9L1234.0,464.2L1235.0,464.7L1236.0,465.2L1237.0,465.7L1238.0,466.2L1239.0,466.7L1240.0,467.0L1241.0,467.2L1242.0,467.4L1243.0,467.5L1244.0,467.6L1245.0,467.6L1246.0,467.7L1247.0,467.8L1248.0,468.0L1249.0,468.2L1250.0,468.6L1251.0,469.0L1252.0,469.7L1253.0,470.7L1254.0,472.0L1255.0,473.8L1256.0,475.9L1257.0,478.1L1258.0,480.0L1259.0,481.7L1260.0,483.4L1261.0,485.1L1262.0,486.8L1263.0,488.4L1264.0,490.0L1265.0,491.5L1266.0,492.8L1267.0,494.0L1268.0,495.2L1269.0,496.5L1270.0,498.0L1271.0,499.8L1272.0,501.8L1273.0,504.1L1274.0,506.3L1275.0,508.3L1276.0,510.0L1277.0,511.4L1278.0,512.7L1279.0,514.0L1280.0,515.3L1281.0,516.6L1282.0,518.0L1283.0,519.5L1284.0,520.9L1285.0,522.4L1286.0,523.8L1287.0,525.3L1288.0,526.9L1289.0,528.4L1290.0,530.0L1291.0,531.6L1292.0,533.3L1293.0,535.0L1294.0,536.7L1295.0,538.4L1296.0,540.0L1297.0,541.6L1298.0,543.2L1299.0,544.8L1300.0,546.4L1301.0,548.0" fill="none" stroke="#00ff00" stroke-width="2.8" stroke-linejoin="round" stroke-linecap="butt"/>
<path d="M777.0,468.0L778.0,465.3L779.0,462.7L780.0,460.1L781.0,457.5L782.0,455.0L783.0,452.5L784.0,450.0L785.0,447.5L786.0,445.1L787.0,442.8L788.0,440.5L789.0,438.3L790.0,436.1L791.0,434.0L792.0,432.0L793.0,430.1L794.0,428.3L795.0,426.7L796.0,425.3L797.0,424.0L798.0,422.9L799.0,421.9L800.0,421.0L801.0,420.2L802.0,419.6L803.0,419.0L804.0,418.6L805.0,418.3L806.0,418.0L807.0,417.8L808.0,417.7L809.0,417.7L810.0,417.7L811.0,417.8L812.0,418.1L813.0,418.4L814.0,418.9L815.0,419.5L816.0,420.4L817.0,421.6L818.0,423.0L819.0,424.7L820.0,426.6L821.0,428.5L822.0,430.5L823.0,432.3L824.0,434.0L825.0,435.5L826.0,437.0L827.0,438.5L828.0,439.9L829.0,441.3L830.0,442.8L831.0,444.4L832.0,446.0L833.0,447.7L834.0,449.4L835.0,451.2L836.0,453.0L837.0,454.8L838.0,456.5L839.0,458.3L840.0,460.0L841.0,461.7L842.0,463.4L843.0,465.0L844.0,466.7L845.0,468.3L846.0,469.9L847.0,471.5L848.0,473.0L849.0,474.4L850.0,475.5L851.0,476.6L852.0,477.6L853.0,478.7L854.0,480.0L855.0,481.6L856.0,483.3L857.0,485.2L858.0,487.0L859.0,488.6L860.0,490.0L861.0,491.2L862.0,492.4L863.0,493.6L864.0,494.8L865.0,496.0L866.0,497.2L867.0,498.4L868.0,499.6L869.0,500.8L870.0,502.0L871.0,503.2L872.0,504.4L873.0,505.6L874.0,506.8L875.0,508.0L876.0,509.2L877.0,510.4L878.0,511.6L879.0,512.8L880.0,514.0L881.0,515.1L882.0,516.2L883.0,517.2L884.0,518.1L885.0,518.9L886.0,519.7L887.0,520.6L888.0,521.3L889.0,522.2L890.0,523.0L891.0,523.9L892.0,524.7L893.0,525.5L894.0,526.3L895.0,527.1L896.0,527.9L897.0,528.7L898.0,529.5L899.0,530.2L900.0,531.0L901.0,531.7L902.0,532.4L903.0,532.9L904.0,533.4L905.0,533.8L906.0,534.1L907.0,534.3L908.0,534.4L909.0,534.4L910.0,534.3L911.0,534.0L912.0,533.5L913.0,532.8L914.0,532.0L915.0,531.1L916.0,530.0L917.0,528.9L918.0,527.7L919.0,526.5L920.0,525.2L921.0,524.0L922.0,522.7L923.0,521.4L924.0,520.0L925.0,518.6L926.0,517.2L927.0,515.8L928.0,514.3L929.0,512.7L930.0,511.0L931.0,509.1L932.0,506.9L933.0,504.5L934.0,502.1L935.0,499.9L936.0,498.0L937.0,496.3L938.0,494.6L939.0,493.0L940.0,491.3L941.0,489.7L942.0,488.0L943.0,486.4L944.0,484.9L945.0,483.4L946.0,481.8L947.0,480.0L948.0,476.4L949.0,471.0L950.0,466.0L951.0,461.9L952.0,457.9L953.0,453.9L954.0,450.0L955.0,446.2L956.0,442.6L957.0,439.2L958.0,436.0L959.0,433.3L960.0,431.2L961.0,429.8L962.0,429.0L963.0,428.7L964.0,428.5L965.0,428.5L966.0,428.4L967.0,428.3L968.0,428.0L969.0,427.6L970.0,427.3L971.0,426.9L972.0,426.5L973.0,426.1L974.0,425.5L975.0,424.8L976.0,424.0L977.0,423.0L978.0,421.8L979.0,420.4L980.0,419.0L981.0,417.5L982.0,416.0L983.0,414.7L984.0,413.4L985.0,412.2L986.0,410.6L987.0,408.6L988.0,406.0L989.0,403.0L990.0,400.0L991.0,397.0L992.0,394.0L993.0,391.0L994.0,388.0L995.0,385.0L996.0,382.0L997.0,379.0L998.0,376.0L999.0,373.0L1000.0,370.0L1001.0,367.0L1002.0,364.0L1003.0,361.0L1004.0,358.0L1005.0,355.0L1006.0,352.0L1007.0,349.0L1008.0,346.0L1009.0,343.0L1010.0,340.0L1011.0,337.0L1012.0,334.0L1013.0,331.1L1014.0,328.3L1015.0,325.6L1016.0,322.8L1017.0,320.0L1018.0,316.4L1019.0,311.8L1020.0,307.1L1021.0,302.9L1022.0,300.0L1023.0,298.0L1024.0,296.0L1025.0,294.0L1026.0,292.0L1027.0,290.0L1028.0,288.0L1029.0,286.0L1030.0,284.0L1031.0,282.0L1032.0,280.0L1033.0,278.4L1034.0,277.4L1035.0,276.8L1036.0,276.5L1037.0,276.4L1038.0,276.4L1039.0,276.7L1040.0,276.9L1041.0,277.0L1042.0,276.6L1043.0,275.9L1044.0,275.3L1045.0,275.0L1046.0,275.2L1047.0,275.8L1048.0,276.8L1049.0,278.4L1050.0,280.3L1051.0,282.2L1052.0,284.1L1053.0,286.0L1054.0,288.0L1055.0,290.0L1056.0,292.0L1057.0,294.0L1058.0,296.0L1059.0,298.0L1060.0,300.0L1061.0,302.1L1062.0,304.2L1063.0,306.3L1064.0,308.5L1065.0,310.7L1066.0,313.0L1067.0,315.4L1068.0,317.9L1069.0,320.4L1070.0,323.0L1071.0,325.6L1072.0,328.0L1073.0,330.3L1074.0,332.6L1075.0,334.8L1076.0,336.9L1077.0,339.0L1078.0,341.0L1079.0,343.0L1080.0,344.8L1081.0,346.5L1082.0,348.1L1083.0,349.6L1084.0,351.0L1085.0,352.3L1086.0,353.6L1087.0,354.6L1088.0,355.4L1089.0,355.9L1090.0,356.0L1091.0,355.9L1092.0,355.8L1093.0,355.6L1094.0,355.4L1095.0,355.2L1096.0,355.0L1097.0,354.8L1098.0,354.5L1099.0,354.2L1100.0,353.9L1101.0,353.7L1102.0,353.6L1103.0,353.6L1104.0,353.8L1105.0,354.1L1106.0,354.4L1107.0,354.7L1108.0,355.0L1109.0,355.3L1110.0,355.6L1111.0,355.9L1112.0,356.2L1113.0,356.6L1114.0,357.0L1115.0,357.5L1116.0,358.2L1117.0,359.0L1118.0,359.9L1119.0,360.9L1120.0,362.0L1121.0,363.1L1122.0,364.3L1123.0,365.6L1124.0,366.9L1125.0,368.4L1126.0,370.0L1127.0,371.7L1128.0,373.3L1129.0,375.0L1130.0,376.7L1131.0,378.3L1132.0,380.0L1133.0,381.7L1134.0,383.3L1135.0,385.0L1136.0,386.7L1137.0,388.3L1138.0,390.0L1139.0,391.8L1140.0,393.8L1141.0,395.9L1142.0,398.0L1143.0,400.1L1144.0,402.0L1145.0,403.8L1146.0,405.5L1147.0,407.2L1148.0,408.9L1149.0,410.4L1150.0,412.0L1151.0,413.5L1152.0,414.9L1153.0,416.3L1154.0,417.6L1155.0,418.9L1156.0,420.0L1157.0,421.0L1158.0,422.0L1159.0,422.8L1160.0,423.6L1161.0,424.3L1162.0,425.0L1163.0,425.7L1164.0,426.3L1165.0,426.9L1166.0,427.4L1167.0,427.9L1168.0,428.2L1169.0,428.4L1170.0,428.4L1171.0,428.3L1172.0,428.1L1173.0,427.9L1174.0,427.6L1175.0,427.2L1176.0,426.8L1177.0,426.4L1178.0,426.0L1179.0,425.6L1180.0,425.2L1181.0,424.7L1182.0,424.2L1183.0,423.8L1184.0,423.2L1185.0,422.6L1186.0,422.0L1187.0,421.2L1188.0,420.2L1189.0,419.1L1190.0,418.0L1191.0,416.9L1192.0,416.0L1193.0,415.3L1194.0,414.7L1195.0,414.2L1196.0,413.7L1197.0,413.1L1198.0,412.4L1199.0,411.5L1200.0,410.4L1201.0,409.1L1202.0,407.6L1203.0,405.9L1204.0,404.0L1205.0,401.9L1206.0,399.7L1207.0,397.4L1208.0,395.0L1209.0,392.5L1210.0,390.0L1211.0,387.4L1212.0,384.9L1213.0,382.3L1214.0,379.7L1215.0,376.9L1216.0,374.0L1217.0,371.0L1218.0,368.0L1219.0,365.0L1220.0,362.0L1221.0,359.0L1222.0,356.0L1223.0,353.0L1224.0,350.0L1225.0,347.0L1226.0,344.0L1227.0,341.5L1228.0,339.7L1229.0,338.6L1230.0,338.1L1231.0,338.0L1232.0,338.2L1233.0,338.6L1234.0,339.6L1235.0,341.0L1236.0,342.8L1237.0,344.6L1238.0,346.4L1239.0,348.2L1240.0,350.0L1241.0,351.7L1242.0,353.3L1243.0,354.9L1244.0,356.5L1245.0,358.2L1246.0,360.0L1247.0,362.0L1248.0,364.2L1249.0,366.5L1250.0,369.0L1251.0,371.5L1252.0,374.0L1253.0,376.5L1254.0,379.0L1255.0,381.6L1256.0,384.3L1257.0,387.1L1258.0,390.0L1259.0,393.1L1260.0,396.3L1261.0,399.6L1262.0,403.0L1263.0,406.5L1264.0,410.0L1265.0,413.6L1266.0,417.4L1267.0,421.2L1268.0,424.9L1269.0,428.6L1270.0,432.0L1271.0,435.2L1272.0,438.4L1273.0,441.4L1274.0,444.3L1275.0,447.2L1276.0,450.0L1277.0,452.8L1278.0,455.5L1279.0,458.3L1280.0,461.0L1281.0,463.8L1282.0,466.5L1283.0,469.3L1284.0,472.0L1285.0,474.7L1286.0,477.4L1287.0,480.1L1288.0,482.7L1289.0,485.4L1290.0,488.0L1291.0,490.2L1292.0,491.9L1293.0,493.3L1294.0,494.6L1295.0,496.0L1296.0,498.0L1297.0,500.5L1298.0,503.4L1299.0,506.6L1300.0,510.2L1301.0,514.0" fill="none" stroke="#0000ff" stroke-width="2.6" stroke-linejoin="round" stroke-linecap="butt"/>
<path d="M777.0,660.0L778.0,660.1L779.0,660.0L780.0,659.6L781.0,659.1L782.0,658.4L783.0,657.7L784.0,657.0L785.0,656.1L786.0,654.7L787.0,652.9L788.0,650.6L789.0,648.0L790.0,641.3L791.0,634.0L792.0,630.9L793.0,629.7L794.0,630.5L795.0,632.4L796.0,636.0L797.0,641.2L798.0,646.7L799.0,652.0L800.0,657.0L801.0,661.6L802.0,665.0L803.0,666.6L804.0,666.8L805.0,666.4L806.0,665.8L807.0,665.3L808.0,664.7L809.0,664.1L810.0,663.6L811.0,663.1L812.0,662.7L813.0,662.2L814.0,661.8L815.0,661.4L816.0,660.9L817.0,660.5L818.0,660.0L819.0,659.5L820.0,659.0L821.0,658.4L822.0,657.8L823.0,657.1L824.0,656.3L825.0,655.6L826.0,654.8L827.0,654.0L828.0,653.3L829.0,652.6L830.0,652.0L831.0,651.4L832.0,650.9L833.0,650.4L834.0,649.9L835.0,649.4L836.0,649.0L837.0,648.5L838.0,648.0L839.0,647.5L840.0,647.0L841.0,646.4L842.0,645.6L843.0,644.8L844.0,644.0L845.0,643.4L846.0,643.0L847.0,642.9L848.0,642.8L849.0,642.8L850.0,642.9L851.0,643.1L852.0,643.2L853.0,643.4L854.0,643.6L855.0,643.8L856.0,643.9L857.0,644.1L858.0,644.3L859.0,644.5L860.0,644.7L861.0,644.8L862.0,645.0L863.0,645.2L864.0,645.3L865.0,645.5L866.0,645.6L867.0,645.7L868.0,645.8L869.0,645.9L870.0,646.0L871.0,645.8L872.0,645.3L873.0,644.5L874.0,643.6L875.0,642.6L876.0,641.4L877.0,640.2L878.0,638.8L879.0,637.4L880.0,636.0L881.0,634.5L882.0,632.9L883.0,631.0L884.0,628.8L885.0,626.0L886.0,622.6L887.0,618.7L888.0,614.5L889.0,610.0L890.0,605.4L891.0,600.8L892.0,596.0L893.0,591.2L894.0,586.0L895.0,580.0L896.0,572.7L897.0,564.5L898.0,556.0L899.0,547.7L900.0,539.3L901.0,530.0L902.0,520.0L903.0,510.0L904.0,500.0L905.0,490.0L906.0,480.0L907.0,465.0L908.0,450.0L909.0,440.0L910.0,430.0L911.0,420.0L912.0,410.0L913.0,400.0L914.0,390.0L915.0,380.1L916.0,370.7L917.0,362.0L918.0,354.2L919.0,347.0L920.0,340.0L921.0,333.0L922.0,326.3L923.0,320.0L924.0,314.7L925.0,310.5L926.0,307.0L927.0,304.0L928.0,301.3L929.0,298.8L930.0,296.7L931.0,295.0L932.0,293.6L933.0,292.4L934.0,291.5L935.0,291.0L936.0,291.0L937.0,291.4L938.0,292.0L939.0,292.8L940.0,293.7L941.0,294.8L942.0,296.0L943.0,297.4L944.0,298.9L945.0,300.5L946.0,302.1L947.0,303.6L948.0,305.0L949.0,306.2L950.0,307.1L951.0,307.8L952.0,308.4L953.0,308.5L954.0,308.0L955.0,306.8L956.0,305.1L957.0,303.0L958.0,300.4L959.0,297.3L960.0,293.6L961.0,289.2L962.0,284.0L963.0,278.3L964.0,272.3L965.0,266.3L966.0,260.0L967.0,253.5L968.0,246.9L969.0,240.3L970.0,234.0L971.0,228.1L972.0,222.5L973.0,217.2L974.0,212.0L975.0,206.9L976.0,202.1L977.0,197.8L978.0,194.0L979.0,191.0L980.0,188.8L981.0,187.2L982.0,186.0L983.0,185.0L984.0,184.2L985.0,183.8L986.0,184.0L987.0,184.7L988.0,185.5L989.0,186.3L990.0,187.0L991.0,187.6L992.0,188.1L993.0,188.6L994.0,189.1L995.0,189.4L996.0,189.6L997.0,189.6L998.0,189.3L999.0,188.8L1000.0,188.0L1001.0,187.1L1002.0,186.0L1003.0,184.8L1004.0,183.6L1005.0,182.4L1006.0,181.0L1007.0,179.6L1008.0,178.0L1009.0,176.3L1010.0,174.7L1011.0,173.0L1012.0,171.3L1013.0,169.7L1014.0,168.0L1015.0,166.3L1016.0,164.7L1017.0,163.0L1018.0,161.3L1019.0,159.7L1020.0,158.0L1021.0,156.4L1022.0,154.9L1023.0,153.5L1024.0,152.1L1025.0,150.8L1026.0,149.6L1027.0,148.5L1028.0,147.9L1029.0,147.5L1030.0,147.6L1031.0,148.0L1032.0,148.5L1033.0,149.2L1034.0,150.0L1035.0,150.9L1036.0,151.8L1037.0,152.8L1038.0,153.8L1039.0,155.0L1040.0,156.3L1041.0,157.8L1042.0,159.6L1043.0,161.6L1044.0,164.0L1045.0,166.7L1046.0,169.6L1047.0,172.7L1048.0,176.0L1049.0,179.5L1050.0,183.1L1051.0,186.6L1052.0,190.0L1053.0,193.2L1054.0,196.2L1055.0,199.2L1056.0,202.0L1057.0,204.5L1058.0,206.7L1059.0,209.1L1060.0,212.0L1061.0,215.3L1062.0,218.7L1063.0,222.0L1064.0,225.3L1065.0,228.7L1066.0,232.0L1067.0,235.3L1068.0,238.7L1069.0,242.0L1070.0,245.3L1071.0,248.7L1072.0,252.0L1073.0,255.3L1074.0,258.7L1075.0,262.0L1076.0,265.3L1077.0,268.5L1078.0,271.7L1079.0,274.9L1080.0,278.0L1081.0,281.0L1082.0,283.7L1083.0,286.3L1084.0,288.8L1085.0,291.1L1086.0,293.4L1087.0,295.7L1088.0,298.0L1089.0,300.3L1090.0,302.7L1091.0,305.0L1092.0,307.3L1093.0,309.6L1094.0,311.8L1095.0,313.9L1096.0,316.0L1097.0,318.0L1098.0,320.0L1099.0,322.0L1100.0,324.0L1101.0,326.0L1102.0,328.0L1103.0,330.0L1104.0,332.0L1105.0,334.0L1106.0,336.0L1107.0,338.0L1108.0,340.0L1109.0,342.0L1110.0,344.0L1111.0,346.0L1112.0,348.0L1113.0,350.0L1114.0,352.0L1115.0,354.0L1116.0,356.0L1117.0,358.0L1118.0,360.0L1119.0,362.0L1120.0,364.0L1121.0,366.0L1122.0,368.0L1123.0,370.1L1124.0,372.3L1125.0,374.5L1126.0,376.9L1127.0,379.2L1128.0,381.5L1129.0,383.8L1130.0,386.0L1131.0,388.1L1132.0,390.2L1133.0,392.2L1134.0,394.2L1135.0,396.2L1136.0,398.2L1137.0,400.1L1138.0,402.0L1139.0,403.8L1140.0,405.6L1141.0,407.3L1142.0,409.0L1143.0,410.7L1144.0,412.4L1145.0,414.2L1146.0,416.0L1147.0,417.9L1148.0,419.9L1149.0,421.9L1150.0,424.0L1151.0,426.0L1152.0,428.1L1153.0,430.1L1154.0,432.0L1155.0,433.9L1156.0,435.7L1157.0,437.6L1158.0,439.3L1159.0,441.1L1160.0,442.8L1161.0,444.4L1162.0,446.0L1163.0,447.5L1164.0,449.1L1165.0,450.5L1166.0,451.9L1167.0,453.3L1168.0,454.7L1169.0,456.0L1170.0,457.2L1171.0,458.5L1172.0,459.7L1173.0,460.9L1174.0,462.0L1175.0,463.1L1176.0,464.2L1177.0,465.3L1178.0,466.4L1179.0,467.4L1180.0,468.4L1181.0,469.4L1182.0,470.4L1183.0,471.4L1184.0,472.3L1185.0,473.1L1186.0,474.0L1187.0,474.8L1188.0,475.6L1189.0,476.4L1190.0,477.2L1191.0,478.0L1192.0,478.7L1193.0,479.5L1194.0,480.2L1195.0,480.9L1196.0,481.6L1197.0,482.3L1198.0,483.0L1199.0,483.7L1200.0,484.3L1201.0,485.0L1202.0,485.6L1203.0,486.3L1204.0,486.9L1205.0,487.5L1206.0,488.0L1207.0,488.6L1208.0,489.1L1209.0,489.6L1210.0,490.0L1211.0,490.4L1212.0,490.8L1213.0,491.1L1214.0,491.4L1215.0,491.6L1216.0,491.9L1217.0,492.1L1218.0,492.4L1219.0,492.7L1220.0,492.9L1221.0,493.3L1222.0,493.6L1223.0,493.9L1224.0,494.3L1225.0,494.6L1226.0,495.0L1227.0,495.4L1228.0,495.8L1229.0,496.4L1230.0,497.0L1231.0,497.7L1232.0,498.4L1233.0,499.1L1234.0,499.8L1235.0,500.5L1236.0,501.2L1237.0,501.9L1238.0,502.6L1239.0,503.3L1240.0,504.0L1241.0,504.7L1242.0,505.4L1243.0,506.1L1244.0,506.8L1245.0,507.5L1246.0,508.2L1247.0,508.9L1248.0,509.6L1249.0,510.3L1250.0,511.0L1251.0,511.7L1252.0,512.3L1253.0,512.9L1254.0,513.4L1255.0,513.9L1256.0,514.5L1257.0,515.0L1258.0,515.6L1259.0,516.3L1260.0,517.0L1261.0,517.8L1262.0,518.6L1263.0,519.4L1264.0,520.3L1265.0,521.2L1266.0,522.1L1267.0,523.1L1268.0,524.0L1269.0,525.0L1270.0,526.0L1271.0,527.0L1272.0,528.0L1273.0,529.0L1274.0,530.0L1275.0,531.0L1276.0,532.0L1277.0,533.0L1278.0,534.0L1279.0,535.0L1280.0,536.0L1281.0,537.0L1282.0,538.0L1283.0,539.0L1284.0,540.0L1285.0,541.0L1286.0,542.0L1287.0,543.0L1288.0,544.0L1289.0,545.0L1290.0,546.0L1291.0,547.0L1292.0,548.0L1293.0,548.9L1294.0,549.9L1295.0,550.8L1296.0,551.8L1297.0,552.7L1298.0,553.6L1299.0,554.6L1300.0,555.5L1301.0,556.4" fill="none" stroke="#00ffff" stroke-width="3.3" stroke-linejoin="round" stroke-linecap="butt"/>
<path d="M777.0,676.4L778.0,676.3L779.0,676.2L780.0,676.1L781.0,676.0L782.0,675.9L783.0,675.8L784.0,675.7L785.0,675.6L786.0,675.5L787.0,675.4L788.0,675.3L789.0,675.3L790.0,675.2L791.0,675.1L792.0,675.1L793.0,675.0L794.0,674.9L795.0,674.9L796.0,674.8L797.0,674.8L798.0,674.7L799.0,674.6L800.0,674.6L801.0,674.5L802.0,674.5L803.0,674.4L804.0,674.3L805.0,674.3L806.0,674.2L807.0,674.2L808.0,674.1L809.0,674.1L810.0,674.0L811.0,673.9L812.0,673.9L813.0,673.8L814.0,673.8L815.0,673.7L816.0,673.7L817.0,673.6L818.0,673.6L819.0,673.5L820.0,673.5L821.0,673.5L822.0,673.4L823.0,673.4L824.0,673.3L825.0,673.3L826.0,673.2L827.0,673.2L828.0,673.1L829.0,673.1L830.0,673.0L831.0,672.9L832.0,672.9L833.0,672.8L834.0,672.7L835.0,672.6L836.0,672.5L837.0,672.4L838.0,672.2L839.0,672.1L840.0,672.0L841.0,671.8L842.0,671.7L843.0,671.5L844.0,671.3L845.0,671.2L846.0,671.0L847.0,670.8L848.0,670.6L849.0,670.5L850.0,670.3L851.0,670.1L852.0,669.8L853.0,669.6L854.0,669.4L855.0,669.2L856.0,669.0L857.0,668.7L858.0,668.5L859.0,668.2L860.0,668.0L861.0,667.8L862.0,667.5L863.0,667.2L864.0,667.0L865.0,666.7L866.0,666.4L867.0,666.1L868.0,665.8L869.0,665.5L870.0,665.2L871.0,664.9L872.0,664.6L873.0,664.3L874.0,664.0L875.0,663.7L876.0,663.3L877.0,663.0L878.0,662.6L879.0,662.2L880.0,661.8L881.0,661.4L882.0,660.9L883.0,660.5L884.0,660.0L885.0,659.5L886.0,659.0L887.0,658.5L888.0,657.9L889.0,657.3L890.0,656.6L891.0,655.9L892.0,655.2L893.0,654.5L894.0,653.7L895.0,652.8L896.0,652.0L897.0,651.1L898.0,650.2L899.0,649.2L900.0,648.2L901.0,647.2L902.0,646.2L903.0,645.1L904.0,644.0L905.0,642.9L906.0,641.7L907.0,640.5L908.0,639.3L909.0,638.0L910.0,636.7L911.0,635.3L912.0,634.0L913.0,632.6L914.0,631.0L915.0,629.4L916.0,627.7L917.0,625.8L918.0,624.0L919.0,622.0L920.0,619.7L921.0,617.2L922.0,614.6L923.0,612.0L924.0,609.1L925.0,605.9L926.0,602.2L927.0,598.0L928.0,593.1L929.0,587.1L930.0,580.0L931.0,572.3L932.0,564.3L933.0,556.0L934.0,547.5L935.0,538.9L936.0,530.0L937.0,520.3L938.0,510.0L939.0,500.0L940.0,492.5L941.0,485.7L942.0,475.4L943.0,463.1L944.0,450.0L945.0,436.7L946.0,423.3L947.0,410.0L948.0,396.7L949.0,383.3L950.0,370.0L951.0,357.8L952.0,347.8L953.0,340.0L954.0,333.3L955.0,326.7L956.0,320.0L957.0,313.3L958.0,306.7L959.0,300.0L960.0,293.8L961.0,288.5L962.0,284.0L963.0,280.1L964.0,276.8L965.0,274.1L966.0,272.0L967.0,270.1L968.0,268.3L969.0,266.6L970.0,265.1L971.0,263.9L972.0,263.0L973.0,262.3L974.0,261.6L975.0,260.9L976.0,260.3L977.0,259.6L978.0,259.0L979.0,258.4L980.0,257.9L981.0,257.4L982.0,256.9L983.0,256.3L984.0,255.6L985.0,254.4L986.0,252.7L987.0,250.6L988.0,248.3L989.0,246.0L990.0,243.8L991.0,241.5L992.0,239.1L993.0,236.6L994.0,234.0L995.0,231.1L996.0,227.8L997.0,224.1L998.0,220.0L999.0,215.2L1000.0,209.9L1001.0,204.7L1002.0,200.0L1003.0,195.9L1004.0,191.9L1005.0,188.0L1006.0,184.1L1007.0,180.1L1008.0,176.0L1009.0,171.7L1010.0,167.2L1011.0,162.7L1012.0,158.2L1013.0,154.0L1014.0,150.0L1015.0,146.3L1016.0,142.6L1017.0,138.9L1018.0,135.3L1019.0,131.6L1020.0,128.0L1021.0,124.4L1022.0,120.7L1023.0,117.1L1024.0,113.6L1025.0,110.0L1026.0,106.9L1027.0,104.5L1028.0,102.6L1029.0,101.0L1030.0,99.8L1031.0,99.6L1032.0,100.0L1033.0,100.8L1034.0,101.8L1035.0,103.0L1036.0,104.4L1037.0,106.0L1038.0,107.8L1039.0,110.0L1040.0,112.5L1041.0,115.4L1042.0,118.6L1043.0,122.0L1044.0,125.5L1045.0,129.2L1046.0,133.3L1047.0,138.0L1048.0,143.2L1049.0,148.6L1050.0,154.2L1051.0,160.0L1052.0,165.9L1053.0,171.9L1054.0,177.9L1055.0,184.0L1056.0,190.3L1057.0,196.9L1058.0,204.0L1059.0,215.0L1060.0,226.0L1061.0,233.3L1062.0,240.4L1063.0,247.3L1064.0,254.0L1065.0,260.6L1066.0,267.1L1067.0,273.6L1068.0,280.0L1069.0,286.3L1070.0,292.5L1071.0,298.4L1072.0,304.0L1073.0,309.3L1074.0,314.7L1075.0,320.0L1076.0,325.3L1077.0,330.7L1078.0,336.0L1079.0,341.1L1080.0,345.7L1081.0,350.0L1082.0,354.0L1083.0,357.8L1084.0,361.4L1085.0,364.8L1086.0,368.0L1087.0,371.1L1088.0,373.9L1089.0,376.6L1090.0,379.0L1091.0,381.2L1092.0,383.1L1093.0,384.9L1094.0,386.4L1095.0,387.8L1096.0,389.0L1097.0,390.1L1098.0,391.0L1099.0,391.7L1100.0,392.3L1101.0,392.7L1102.0,393.0L1103.0,393.0L1104.0,392.9L1105.0,392.7L1106.0,392.3L1107.0,391.8L1108.0,391.0L1109.0,390.0L1110.0,388.8L1111.0,387.6L1112.0,386.4L1113.0,385.2L1114.0,384.0L1115.0,382.8L1116.0,381.7L1117.0,380.5L1118.0,379.3L1119.0,378.2L1120.0,377.0L1121.0,375.8L1122.0,374.5L1123.0,373.2L1124.0,371.9L1125.0,370.6L1126.0,369.4L1127.0,368.4L1128.0,367.8L1129.0,368.0L1130.0,368.6L1131.0,369.4L1132.0,370.4L1133.0,371.2L1134.0,371.6L1135.0,371.8L1136.0,371.8L1137.0,371.9L1138.0,372.0L1139.0,372.1L1140.0,372.4L1141.0,372.8L1142.0,373.3L1143.0,373.9L1144.0,374.5L1145.0,375.2L1146.0,376.0L1147.0,376.8L1148.0,377.7L1149.0,378.6L1150.0,379.6L1151.0,380.8L1152.0,382.0L1153.0,383.4L1154.0,385.1L1155.0,386.9L1156.0,388.7L1157.0,390.4L1158.0,392.0L1159.0,393.4L1160.0,394.7L1161.0,396.0L1162.0,397.1L1163.0,398.1L1164.0,399.0L1165.0,399.6L1166.0,399.9L1167.0,400.1L1168.0,400.2L1169.0,400.5L1170.0,401.0L1171.0,401.9L1172.0,402.9L1173.0,404.1L1174.0,405.3L1175.0,406.3L1176.0,407.0L1177.0,407.5L1178.0,408.0L1179.0,408.4L1180.0,408.7L1181.0,408.9L1182.0,409.0L1183.0,409.0L1184.0,409.0L1185.0,409.0L1186.0,409.0L1187.0,408.9L1188.0,408.9L1189.0,408.9L1190.0,409.0L1191.0,409.1L1192.0,409.3L1193.0,409.4L1194.0,409.6L1195.0,409.8L1196.0,410.0L1197.0,410.3L1198.0,410.8L1199.0,411.3L1200.0,411.7L1201.0,412.0L1202.0,411.9L1203.0,411.4L1204.0,410.5L1205.0,409.3L1206.0,408.0L1207.0,406.5L1208.0,404.8L1209.0,403.0L1210.0,401.2L1211.0,399.5L1212.0,398.0L1213.0,396.6L1214.0,395.3L1215.0,394.0L1216.0,392.9L1217.0,391.8L1218.0,391.0L1219.0,390.4L1220.0,390.1L1221.0,390.0L1222.0,389.9L1223.0,389.6L1224.0,389.0L1225.0,388.2L1226.0,387.4L1227.0,386.6L1228.0,385.7L1229.0,384.9L1230.0,384.0L1231.0,383.1L1232.0,382.0L1233.0,380.9L1234.0,379.9L1235.0,378.9L1236.0,378.0L1237.0,377.4L1238.0,377.3L1239.0,377.5L1240.0,377.9L1241.0,378.4L1242.0,379.0L1243.0,379.5L1244.0,380.1L1245.0,380.8L1246.0,382.1L1247.0,384.0L1248.0,386.3L1249.0,388.7L1250.0,391.2L1251.0,393.6L1252.0,396.0L1253.0,398.3L1254.0,400.6L1255.0,402.9L1256.0,405.2L1257.0,407.6L1258.0,410.0L1259.0,412.7L1260.0,415.7L1261.0,418.8L1262.0,422.0L1263.0,425.2L1264.0,428.0L1265.0,430.7L1266.0,433.3L1267.0,436.0L1268.0,438.7L1269.0,441.3L1270.0,444.0L1271.0,446.7L1272.0,449.3L1273.0,452.0L1274.0,454.7L1275.0,457.3L1276.0,460.0L1277.0,462.7L1278.0,465.3L1279.0,468.0L1280.0,470.7L1281.0,473.3L1282.0,476.0L1283.0,479.7L1284.0,484.7L1285.0,489.8L1286.0,494.0L1287.0,497.2L1288.0,500.2L1289.0,503.0L1290.0,505.5L1291.0,507.9L1292.0,510.0L1293.0,511.8L1294.0,513.4L1295.0,514.9L1296.0,516.4L1297.0,518.0L1298.0,520.0L1299.0,522.3L1300.0,525.0L1301.0,528.0" fill="none" stroke="#4e1616" stroke-width="2.2" stroke-linejoin="round" stroke-linecap="butt"/>
</g>
<rect x="776.4" y="27.5" width="525.1999999999999" height="695.6" fill="none" stroke="#000" stroke-width="2.6"/>
<line x1="818.7" y1="723.1" x2="818.7" y2="732.6" stroke="#000" stroke-width="2.6"/>
<text transform="translate(818.7,758.0) scale(1,1.1)" font-size="24.6" text-anchor="middle">100</text>
<line x1="879.0" y1="723.1" x2="879.0" y2="732.6" stroke="#000" stroke-width="2.6"/>
<text transform="translate(879.0,758.0) scale(1,1.1)" font-size="24.6" text-anchor="middle">150</text>
<line x1="939.4" y1="723.1" x2="939.4" y2="732.6" stroke="#000" stroke-width="2.6"/>
<text transform="translate(939.4,758.0) scale(1,1.1)" font-size="24.6" text-anchor="middle">200</text>
<line x1="999.8" y1="723.1" x2="999.8" y2="732.6" stroke="#000" stroke-width="2.6"/>
<text transform="translate(999.8,758.0) scale(1,1.1)" font-size="24.6" text-anchor="middle">250</text>
<line x1="1060.1" y1="723.1" x2="1060.1" y2="732.6" stroke="#000" stroke-width="2.6"/>
<text transform="translate(1060.1,758.0) scale(1,1.1)" font-size="24.6" text-anchor="middle">300</text>
<line x1="1120.5" y1="723.1" x2="1120.5" y2="732.6" stroke="#000" stroke-width="2.6"/>
<text transform="translate(1120.5,758.0) scale(1,1.1)" font-size="24.6" text-anchor="middle">350</text>
<line x1="1180.9" y1="723.1" x2="1180.9" y2="732.6" stroke="#000" stroke-width="2.6"/>
<text transform="translate(1180.9,758.0) scale(1,1.1)" font-size="24.6" text-anchor="middle">400</text>
<line x1="1241.2" y1="723.1" x2="1241.2" y2="732.6" stroke="#000" stroke-width="2.6"/>
<text transform="translate(1241.2,758.0) scale(1,1.1)" font-size="24.6" text-anchor="middle">450</text>
<line x1="1301.6" y1="723.1" x2="1301.6" y2="732.6" stroke="#000" stroke-width="2.6"/>
<text transform="translate(1301.6,758.0) scale(1,1.1)" font-size="24.6" text-anchor="middle">500</text>
<line x1="767.4" y1="671.6" x2="776.4" y2="671.6" stroke="#000" stroke-width="2.6"/>
<text transform="translate(762.6,679.8) scale(1,1.1)" font-size="24.6" text-anchor="end">0.00</text>
<line x1="767.4" y1="542.8" x2="776.4" y2="542.8" stroke="#000" stroke-width="2.6"/>
<text transform="translate(762.6,551.0) scale(1,1.1)" font-size="24.6" text-anchor="end">0.05</text>
<line x1="767.4" y1="413.9" x2="776.4" y2="413.9" stroke="#000" stroke-width="2.6"/>
<text transform="translate(762.6,422.1) scale(1,1.1)" font-size="24.6" text-anchor="end">0.10</text>
<line x1="767.4" y1="285.1" x2="776.4" y2="285.1" stroke="#000" stroke-width="2.6"/>
<text transform="translate(762.6,293.3) scale(1,1.1)" font-size="24.6" text-anchor="end">0.15</text>
<line x1="767.4" y1="156.3" x2="776.4" y2="156.3" stroke="#000" stroke-width="2.6"/>
<text transform="translate(762.6,164.5) scale(1,1.1)" font-size="24.6" text-anchor="end">0.20</text>
<line x1="767.4" y1="27.5" x2="776.4" y2="27.5" stroke="#000" stroke-width="2.6"/>
<text transform="translate(762.6,35.7) scale(1,1.1)" font-size="24.6" text-anchor="end">0.25</text>
<text transform="translate(1058.5,789.8) scale(1,1.055)" font-size="24.2" text-anchor="middle" textLength="197.5" lengthAdjust="spacingAndGlyphs">Temperature (°C)</text>
<text transform="translate(701.7,332.8) rotate(-90)" font-size="24" text-anchor="middle" textLength="414" lengthAdjust="spacingAndGlyphs">Derivative weight change (%/°C)</text>
<text transform="translate(782.3,56.3) scale(1,1.07)" font-size="24.6" text-anchor="start">b</text>
<line x1="1130" y1="52.2" x2="1189.5" y2="52.2" stroke="#007e00" stroke-width="2.8"/>
<text transform="translate(1195.2,61.4) scale(1,1.09)" font-size="24.2" text-anchor="start" style="fill:#007e00">GOL_TH</text>
<line x1="1130" y1="85.3" x2="1189.5" y2="85.3" stroke="#00ff00" stroke-width="2.7"/>
<text transform="translate(1195.2,94.5) scale(1,1.09)" font-size="24.2" text-anchor="start" style="fill:#00ff00">GOL_H</text>
<line x1="1130" y1="118.5" x2="1189.5" y2="118.5" stroke="#0000ff" stroke-width="2.7"/>
<text transform="translate(1195.2,127.7) scale(1,1.09)" font-size="24.2" text-anchor="start" style="fill:#0000ff">GOT_LH</text>
<line x1="1130" y1="151.6" x2="1189.5" y2="151.6" stroke="#00ffff" stroke-width="3.3"/>
<text transform="translate(1195.2,160.8) scale(1,1.09)" font-size="24.2" text-anchor="start" style="fill:#00ffff">GOT_H</text>
<line x1="1130" y1="184.8" x2="1189.5" y2="184.8" stroke="#4e1616" stroke-width="2.3"/>
<text transform="translate(1195.2,194.0) scale(1,1.09)" font-size="24.2" text-anchor="start" style="fill:#4e1616;font-weight:normal;stroke:#4e1616;stroke-width:0.8" textLength="97.5" lengthAdjust="spacing">GOLT_H</text>
</g>
</svg></body></html>
